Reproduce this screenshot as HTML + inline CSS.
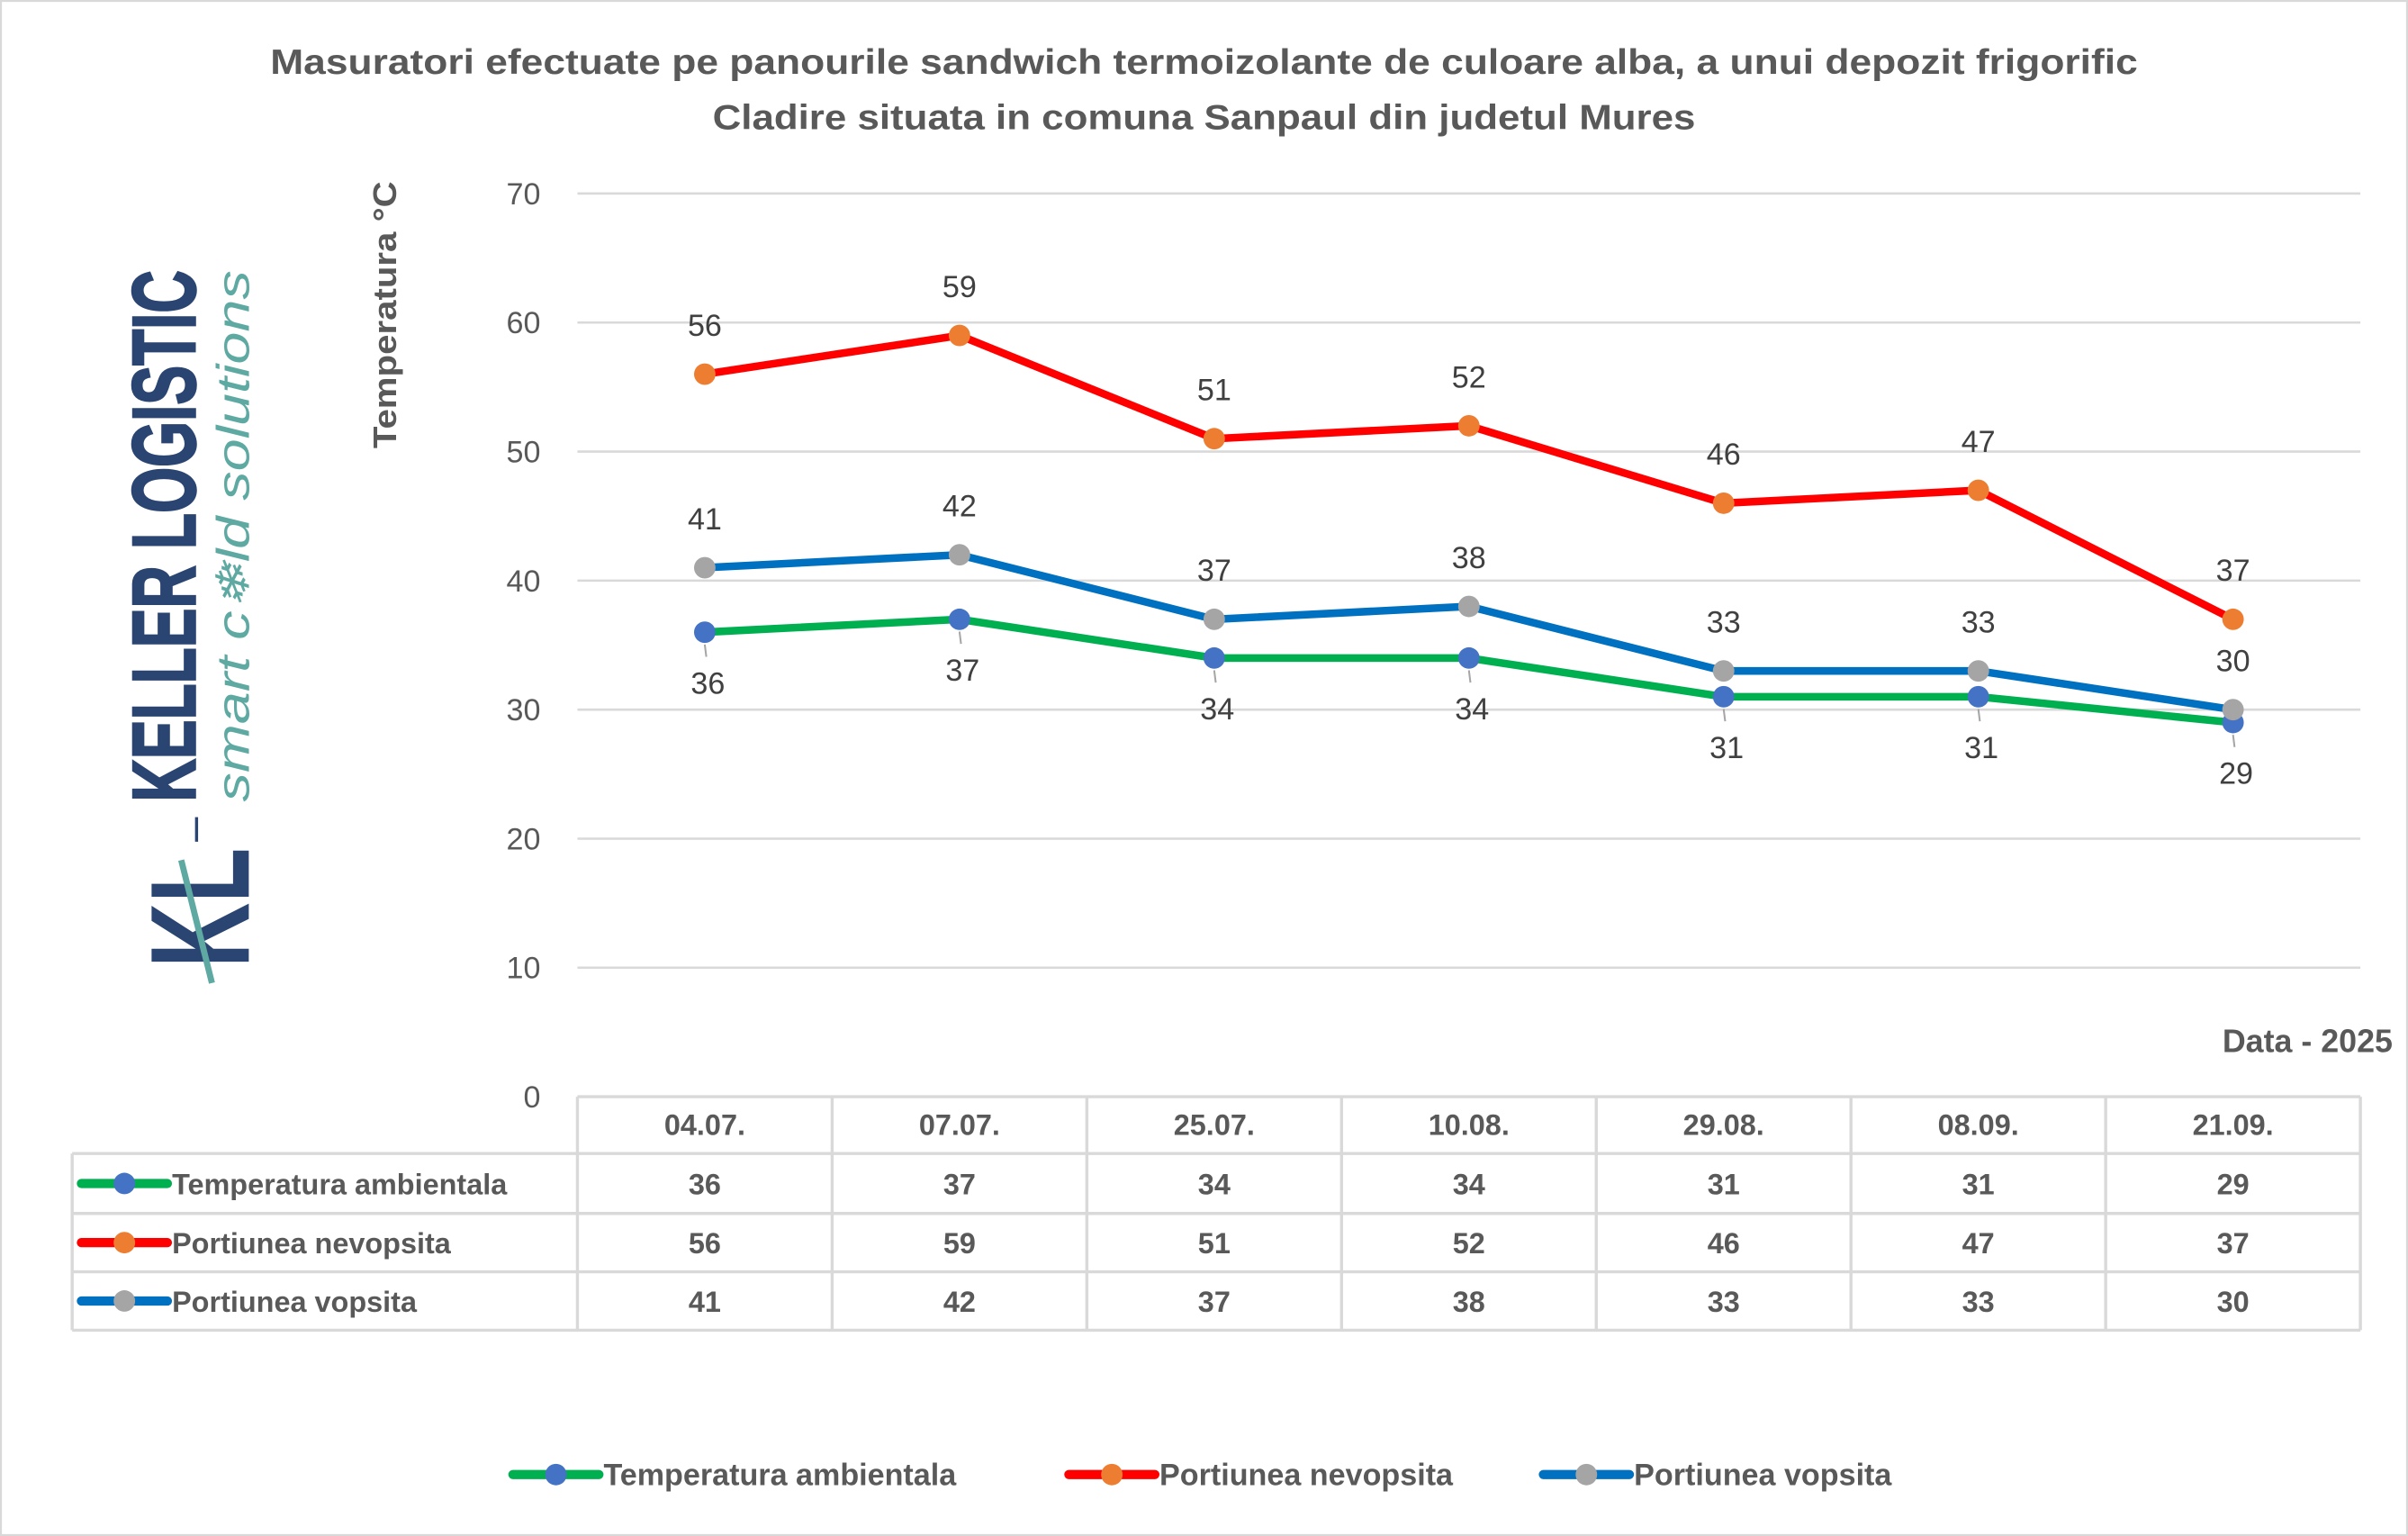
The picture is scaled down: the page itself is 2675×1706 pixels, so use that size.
<!DOCTYPE html>
<html><head><meta charset="utf-8"><style>
html,body{margin:0;padding:0;background:#fff;}
svg{display:block;}
text{font-family:"Liberation Sans",sans-serif;}
</style></head><body>
<svg id="chart" width="2675" height="1706" viewBox="0 0 1568 1000" xmlns="http://www.w3.org/2000/svg">
<rect x="0.5" y="0.5" width="1567" height="999" fill="#fff" stroke="#d9d9d9" stroke-width="1.5"/>
<g fill="#595959" font-weight="bold" font-size="23" text-anchor="middle">
<text x="784" y="48" textLength="1216" lengthAdjust="spacingAndGlyphs">Masuratori efectuate pe panourile sandwich termoizolante de culoare alba, a unui depozit frigorific</text>
<text x="784" y="84" textLength="640" lengthAdjust="spacingAndGlyphs">Cladire situata in comuna Sanpaul din judetul Mures</text>
</g>
<g>
<text transform="translate(127,522) rotate(-90)" font-size="58" font-weight="bold" fill="#2b4572" stroke="#2b4572" stroke-width="1.5" textLength="346" lengthAdjust="spacingAndGlyphs">KELLER LOGISTIC</text>
<text transform="translate(162,522) rotate(-90)" font-size="30" font-style="italic" fill="#5fa9a3" textLength="346" lengthAdjust="spacingAndGlyphs">smart c❄ld solutions</text>
<line x1="128" y1="532" x2="128" y2="548" stroke="#2b4572" stroke-width="2"/>
<text transform="translate(162,630) rotate(-90)" font-size="92" font-weight="bold" fill="#2b4572" textLength="78" lengthAdjust="spacingAndGlyphs">KL</text>
<line x1="118" y1="560" x2="138" y2="640" stroke="#5fa9a3" stroke-width="4"/>
</g>
<text transform="translate(258,205) rotate(-90)" font-size="21" font-weight="bold" fill="#595959" text-anchor="middle" textLength="174" lengthAdjust="spacingAndGlyphs">Temperatura °C</text>
<text x="1558" y="685" font-size="21" font-weight="bold" fill="#595959" text-anchor="end">Data - 2025</text>
<g id="grid"></g><g id="yticks"></g><g id="table"></g><g id="series"></g><g id="labels"></g><g id="legend"></g>
</svg>
<script>
const categories = ["04.07.","07.07.","25.07.","10.08.","29.08.","08.09.","21.09."];
const seriesNames = ["Temperatura  ambientala","Portiunea nevopsita","Portiunea vopsita"];
const ambient = [36,37,34,34,31,31,29];
const unpainted = [56,59,51,52,46,47,37];
const painted = [41,42,37,38,33,33,30];
const yTicks = [0,10,20,30,40,50,60,70];
const NS="http://www.w3.org/2000/svg";
const X0=376,X1=1537,Y0=714,Y70=126;
const bw=(X1-X0)/categories.length;
function xs(i){return X0+bw*(i+0.5);}
function ys(v){return Y0-(v/70)*(Y0-Y70);}
function mk(tag,attrs,parent,txt){const e=document.createElementNS(NS,tag);for(const k in attrs)e.setAttribute(k,attrs[k]);if(txt!==undefined)e.textContent=txt;parent.appendChild(e);return e;}
const grid=document.getElementById('grid'),yt=document.getElementById('yticks');
yTicks.forEach(t=>{
 if(t>0){const l=mk('line',{x1:X0,x2:X1,y1:ys(t),y2:ys(t),stroke:'#d9d9d9','stroke-width':1.5},grid);
 
 }
 const tx=mk('text',{x:352,y:ys(t)+7,'font-size':20,fill:'#595959','text-anchor':'end'},yt,String(t));
 
 
});
const styles=[{line:'#00b050',mark:'#4472c4',data:ambient},{line:'#ff0000',mark:'#ed7d31',data:unpainted},{line:'#0070c0',mark:'#a5a5a5',data:painted}];
const tb=document.getElementById('table');
const rowY=[714,751,790,828,866];
const tl=47;
const g='#d9d9d9';
mk('line',{x1:X0,x2:X1,y1:714,y2:714,stroke:g,'stroke-width':2},tb);
for(let r=1;r<5;r++) mk('line',{x1:tl,x2:X1,y1:rowY[r],y2:rowY[r],stroke:g,'stroke-width':2},tb);
mk('line',{x1:tl,x2:tl,y1:751,y2:866,stroke:g,'stroke-width':2},tb);
for(let i=0;i<=categories.length;i++) mk('line',{x1:X0+bw*i,x2:X0+bw*i,y1:714,y2:866,stroke:g,'stroke-width':2},tb);
categories.forEach((c,i)=>{
 const t=mk('text',{x:xs(i),y:739,'font-size':19,'font-weight':'bold',fill:'#595959','text-anchor':'middle'},tb,c);
 
 
});
function legendKey(parent,x,y,s){
 mk('line',{x1:x,x2:x+56,y1:y,y2:y,stroke:s.line,'stroke-width':6,'stroke-linecap':'round'},parent);
 mk('circle',{cx:x+28,cy:y,r:7,fill:s.mark},parent);
}
styles.forEach((s,r)=>{
 const cy=(rowY[r+1]+rowY[r+2])/2;
 legendKey(tb,53,cy,s);
 const n=mk('text',{x:112,y:cy+7,'font-size':19,'font-weight':'bold',fill:'#595959'},tb,seriesNames[r]);
 
 
 s.data.forEach((v,i)=>{
  const t=mk('text',{x:xs(i),y:cy+7,'font-size':19,'font-weight':'bold',fill:'#595959','text-anchor':'middle'},tb,String(v));
  
  
 });
});
const sg=document.getElementById('series'),lg=document.getElementById('labels');
const drawOrder=[0,2,1];
drawOrder.forEach(k=>{
 const s=styles[k];
 const p=mk('polyline',{points:s.data.map((v,i)=>xs(i)+','+ys(v)).join(' '),fill:'none',stroke:s.line,'stroke-width':5,'stroke-linejoin':'round'},sg);
 
 
 s.data.forEach((v,i)=>{
  const c=mk('circle',{cx:xs(i),cy:ys(v),r:7,fill:s.mark},sg);
  
  
  const below=k===0;
  if(below) mk('line',{x1:xs(i),y1:ys(v)+8,x2:xs(i)+1,y2:ys(v)+16,stroke:'#a6a6a6','stroke-width':1.2},lg);
  const t=mk('text',{x:xs(i)+(below?2:0),y:below?ys(v)+40:ys(v)-25,'font-size':20,fill:'#404040','text-anchor':'middle'},lg,String(v));
  
  
 });
});
const leg=document.getElementById('legend');
const lx=[334,696,1005];
styles.forEach((s,k)=>{
 legendKey(leg,lx[k],960,s);
 const t=mk('text',{x:lx[k]+59,y:967,'font-size':20,'font-weight':'bold',fill:'#595959'},leg,seriesNames[k]);
 
 
});
</script>
</body></html>
